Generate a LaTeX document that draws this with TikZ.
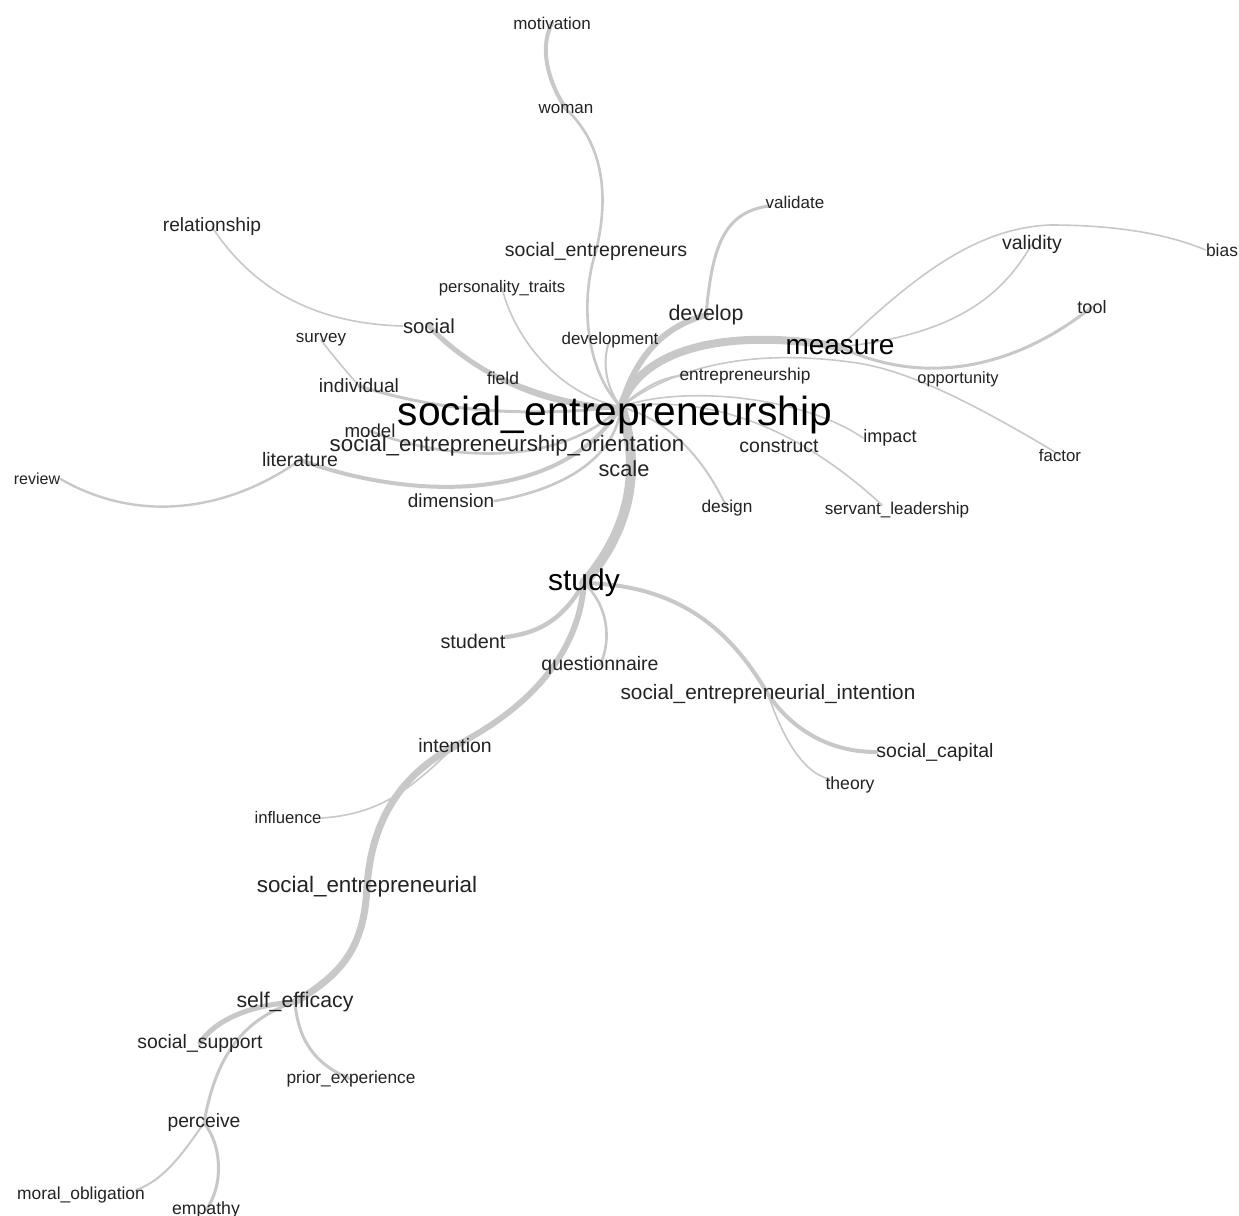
\documentclass[tikz,border=0pt]{standalone}
\usepackage{fontspec}
\setmainfont{Liberation Sans}
\usetikzlibrary{backgrounds}
\definecolor{edgegray}{RGB}{200,200,200}
\definecolor{txt}{RGB}{35,35,35}
\newcommand{\fsz}[1]{\fontsize{#1}{#1}\selectfont}
\tikzset{
  lbl/.style={inner sep=0pt, text=txt, yshift=-1pt},
  e/.style={draw=edgegray, line cap=round, line join=round},
}
\begin{document}
\begin{tikzpicture}[x=0.5pt,y=-0.5pt]
\useasboundingbox (0,0) rectangle (1239,1216);
% nodes
\node[lbl,font=\fsz{8.5}] (motivation) at (552,21) {motivation};
\node[lbl,font=\fsz{8.5}] (woman) at (566,107) {woman};
\node[lbl,font=\fsz{9.75}] (socents) at (596,249) {social\_entrepreneurs};
\node[lbl,font=\fsz{8.5}] (validate) at (795,200) {validate};
\node[lbl,font=\fsz{9.6}] (relationship) at (212,225) {relationship};
\node[lbl,font=\fsz{9.8}] (validity) at (1032,242) {validity};
\node[lbl,font=\fsz{8.7}] (bias) at (1222,248) {bias};
\node[lbl,font=\fsz{8.35}] (personality) at (502,286) {personality\_traits};
\node[lbl,font=\fsz{9}] (tool) at (1092,305) {tool};
\node[lbl,font=\fsz{10.7}] (develop) at (706,313) {develop};
\node[lbl,font=\fsz{10.15}] (social) at (429,324) {social};
\node[lbl,font=\fsz{8.5}] (survey) at (321,338) {survey};
\node[lbl,font=\fsz{8.45}] (development) at (610,338) {development};
\node[lbl,font=\fsz{14},text=black] (measure) at (840,345) {measure};
\node[lbl,font=\fsz{8.65}] (entrepreneurship) at (745,374) {entrepreneurship};
\node[lbl,font=\fsz{8.7}] (field) at (503,376) {field};
\node[lbl,font=\fsz{8.2}] (opportunity) at (958,377) {opportunity};
\node[lbl,font=\fsz{9.6}] (individual) at (359,384) {individual};
\node[lbl,font=\fsz{20.35},text=black] (SE) at (615,413) {social\_entrepreneurship};
\node[lbl,font=\fsz{9.35}] (model) at (370,429) {model};
\node[lbl,font=\fsz{9}] (impact) at (890,436) {impact};
\node[lbl,font=\fsz{11.15}] (SEO) at (507,444) {social\_entrepreneurship\_orientation};
\node[lbl,font=\fsz{9.75}] (construct) at (779,444) {construct};
\node[lbl,font=\fsz{8.4}] (factor) at (1060,453) {factor};
\node[lbl,font=\fsz{9.75}] (literature) at (300,458) {literature};
\node[lbl,font=\fsz{10.9}] (scale) at (624,467) {scale};
\node[lbl,font=\fsz{8}] (review) at (37,477) {review};
\node[lbl,font=\fsz{9.45}] (dimension) at (451,499) {dimension};
\node[lbl,font=\fsz{8.65}] (design) at (727,506) {design};
\node[lbl,font=\fsz{8.55}] (servant) at (897,508) {servant\_leadership};
\node[lbl,font=\fsz{15},text=black] (study) at (584,581) {study};
\node[lbl,font=\fsz{9.9}] (student) at (473,639) {student};
\node[lbl,font=\fsz{9.75}] (questionnaire) at (600,663) {questionnaire};
\node[lbl,font=\fsz{10.4}] (SEI) at (768,692) {social\_entrepreneurial\_intention};
\node[lbl,font=\fsz{9.7}] (intention) at (455,744) {intention};
\node[lbl,font=\fsz{9.75}] (socialcapital) at (935,750) {social\_capital};
\node[lbl,font=\fsz{8.8}] (theory) at (850,783) {theory};
\node[lbl,font=\fsz{8.35}] (influence) at (288,816) {influence};
\node[lbl,font=\fsz{11.2}] (socentl) at (367,885) {social\_entrepreneurial};
\node[lbl,font=\fsz{10.65}] (selfeff) at (295,1000) {self\_efficacy};
\node[lbl,font=\fsz{9.7}] (socsupport) at (200,1041) {social\_support};
\node[lbl,font=\fsz{8.65}] (prior) at (351,1077) {prior\_experience};
\node[lbl,font=\fsz{9.65}] (perceive) at (204,1121) {perceive};
\node[lbl,font=\fsz{8.7}] (moral) at (81,1193) {moral\_obligation};
\node[lbl,font=\fsz{8.85}] (empathy) at (206,1208) {empathy};
\coordinate (hub) at ([shift={(6,-8)}]SE.center);
% edges
\begin{pgfonlayer}{background}
\fill[white] (0,0) rectangle (1239,1216);
% thick trunk
\draw[e,line width=4pt] (hub) .. controls (638,352) and (720,326) .. (measure.center);
\draw[e,line width=5pt] (hub) .. controls (642,470) and (630,530) .. (study.center);
\draw[e,line width=3pt] (study.center) .. controls (580,640) and (545,700) .. (intention.center);
\draw[e,line width=3.5pt] (intention.center) .. controls (410,770) and (372,810) .. (socentl.center);
\draw[e,line width=3.5pt] (socentl.center) .. controls (364,950) and (340,975) .. (selfeff.center);
\draw[e,line width=2.5pt] (selfeff.center) .. controls (250,1005) and (215,1020) .. (socsupport.center);
\draw[e,line width=1.5pt] (selfeff.center) .. controls (240,1020) and (215,1060) .. (perceive.center);
\draw[e,line width=1.5pt] (selfeff.center) .. controls (298,1040) and (315,1065) .. (prior.center);
\draw[e,line width=1pt] (perceive.center) .. controls (185,1150) and (165,1180) .. ([shift={(55,-5)}]moral.center);
\draw[e,line width=1.5pt] (perceive.center) .. controls (222,1145) and (224,1185) .. (empathy.center);
\draw[e,line width=0.8pt] (intention.center) .. controls (410,790) and (380,814) .. (influence.east);
\draw[e,line width=2.2pt] (study.center) .. controls (565,615) and (545,632) .. ([shift={(0,-4)}]student.east);
\draw[e,line width=1.3pt] (study.center) .. controls (608,605) and (612,640) .. (questionnaire.center);
\draw[e,line width=2pt] (study.center) .. controls (680,585) and (730,630) .. (SEI.center);
\draw[e,line width=2pt] (SEI.center) .. controls (785,720) and (820,752) .. (socialcapital.west);
\draw[e,line width=0.8pt] (SEI.center) .. controls (780,730) and (800,772) .. ([shift={(4,-6)}]theory.west);
% upper
\draw[e,line width=3pt] (hub) .. controls (630,375) and (650,330) .. (develop.center);
\draw[e,line width=1.5pt] (develop.center) .. controls (712,250) and (722,212) .. ([shift={(4,4)}]validate.west);
\draw[e,line width=1.3pt] (hub) .. controls (585,370) and (580,300) .. (socents.center);
\draw[e,line width=1.3pt] (socents.center) .. controls (606,210) and (610,150) .. (woman.center);
\draw[e,line width=2pt] (woman.center) .. controls (550,85) and (538,50) .. (motivation.center);
\draw[e,line width=1pt] (hub) .. controls (600,380) and (605,350) .. (development.center);
\draw[e,line width=0.8pt] (hub) .. controls (560,395) and (515,340) .. (personality.center);
% left
\draw[e,line width=2.5pt] (hub) .. controls (545,410) and (470,370) .. (social.center);
\draw[e,line width=0.8pt] (social.west) .. controls (330,324) and (260,300) .. (relationship.center);
\draw[e,line width=1.5pt] (hub) .. controls (570,405) and (530,390) .. (field.center);
\draw[e,line width=1.5pt] (hub) .. controls (500,420) and (420,405) .. (individual.center);
\draw[e,line width=0.8pt] (individual.center) .. controls (345,370) and (330,352) .. (survey.center);
\draw[e,line width=1.3pt] (model.center) .. controls (450,462) and (560,467) .. (hub);
\draw[e,line width=2pt] (literature.center) .. controls (410,500) and (560,505) .. (hub);
\draw[e,line width=1.2pt] (literature.center) .. controls (230,510) and (140,525) .. (review.east);
\draw[e,line width=1.3pt] (hub) .. controls (615,460) and (560,490) .. (dimension.east);
% right
\draw[e,line width=1pt] (hub) .. controls (670,420) and (705,460) .. (design.center);
\draw[e,line width=0.8pt] (hub) .. controls (700,395) and (790,420) .. ([shift={(-15,-5)}]servant.center);
\draw[e,line width=0.8pt] (hub) .. controls (680,385) and (800,395) .. (impact.west);
\draw[e,line width=1pt] (hub) .. controls (640,390) and (660,378) .. (entrepreneurship.west);
\draw[e,line width=0.8pt] (hub) .. controls (680,362) and (760,350) .. (850,362) .. controls (900,368) and (960,395) .. (factor.center);
\draw[e,line width=0.8pt] (measure.center) .. controls (920,270) and (980,228) .. (1050,225) .. controls (1120,225) and (1170,235) .. (bias.west);
\draw[e,line width=0.8pt] (measure.center) .. controls (950,335) and (1000,300) .. (validity.center);
\draw[e,line width=1.5pt] (measure.center) .. controls (920,385) and (1010,372) .. (tool.center);
\end{pgfonlayer}
\end{tikzpicture}
\end{document}
